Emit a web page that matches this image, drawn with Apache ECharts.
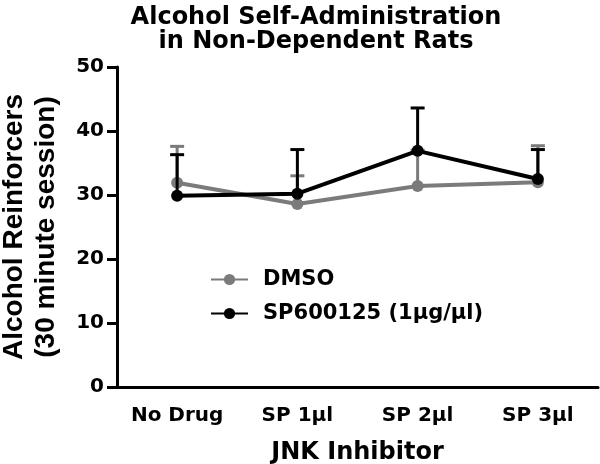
<!DOCTYPE html>
<html>
<head>
<meta charset="utf-8">
<script src="https://cdn.jsdelivr.net/npm/echarts@6/dist/echarts.min.js"></script>
<style>
  html, body { margin: 0; padding: 0; background: #fff; }
  #main { width: 600px; height: 464px; }
</style>
</head>
<body>
<div id="main"></div>
<script>
var categories = ['No Drug', 'SP 1µl', 'SP 2µl', 'SP 3µl'];
var dmsoMean = [31.9, 28.6, 31.4, 32.0];
var dmsoUpper = [37.6, 33.0, 37.0, 37.7];
var spMean = [29.9, 30.2, 36.9, 32.5];
var spUpper = [36.3, 37.1, 43.6, 37.1];
var yTicks = [0, 10, 20, 30, 40, 50];

var gray = '#7b7b7b';
var font = 'DejaVu Sans, sans-serif';
var fontNarrow = 'Liberation Sans, Arial, sans-serif';

function errData(mean, upper) {
    return mean.map(function (m, i) { return [i, m, upper[i]]; });
}

function errRender(color) {
    return function (params, api) {
        var base = api.coord([api.value(0), api.value(1)]);
        var top = api.coord([api.value(0), api.value(2)]);
        var half = 7;
        return {
            type: 'group',
            children: [
                { type: 'line', shape: { x1: base[0], y1: base[1], x2: top[0], y2: top[1] },
                  style: { stroke: color, lineWidth: 3 } },
                { type: 'line', shape: { x1: top[0] - half, y1: top[1], x2: top[0] + half, y2: top[1] },
                  style: { stroke: color, lineWidth: 3 } }
            ]
        };
    };
}

var myChart = echarts.init(document.getElementById('main'));

myChart.setOption({
    animation: false,
    title: {
        text: 'Alcohol Self-Administration\nin Non-Dependent Rats',
        left: 311,
        top: 1,
        textAlign: 'center',
        textStyle: { fontFamily: font, fontSize: 24, fontWeight: 'bold', color: '#000', lineHeight: 24 }
    },
    legend: {
        orient: 'vertical',
        left: 205,
        top: 264,
        itemGap: 13,
        itemWidth: 37,
        itemHeight: 14,
        data: ['DMSO', 'SP600125 (1µg/µl)'],
        textStyle: { fontFamily: font, fontSize: 21, fontWeight: 'bold', color: '#000', lineHeight: 21, padding: [0, 0, 0, 10] }
    },
    grid: { left: 117, right: 2, top: 67, bottom: 77, outerBoundsMode: 'none', containLabel: false },
    xAxis: {
        type: 'category',
        data: categories,
        boundaryGap: true,
        name: 'JNK Inhibitor',
        nameLocation: 'middle',
        nameGap: 54,
        nameTextStyle: { fontFamily: font, fontSize: 24, fontWeight: 'bold', color: '#000' },
        axisLine: { lineStyle: { color: '#000', width: 3 } },
        axisTick: { alignWithLabel: true, length: 10, lineStyle: { color: '#000', width: 3 } },
        axisLabel: { fontFamily: font, fontSize: 20, fontWeight: 'bold', color: '#000', margin: 19 }
    },
    yAxis: {
        type: 'value',
        min: 0,
        max: 50,
        interval: 10,
        name: 'Alcohol Reinforcers\n(30 minute session)',
        nameLocation: 'middle',
        nameGap: 55,
        nameTextStyle: { fontFamily: fontNarrow, fontSize: 28, fontWeight: 'bold', color: '#000', lineHeight: 32 },
        axisLine: { show: true, lineStyle: { color: '#000', width: 3 } },
        axisTick: { show: true, length: 10, lineStyle: { color: '#000', width: 3 } },
        axisLabel: { fontFamily: font, fontSize: 20, fontWeight: 'bold', color: '#000', margin: 13,
            formatter: function (v) { return yTicks.indexOf(v) >= 0 ? String(v) : ''; } },
        splitLine: { show: false }
    },
    series: [
        {
            name: 'DMSO',
            type: 'line',
            data: dmsoMean,
            symbol: 'circle',
            symbolSize: 12,
            z: 3,
            itemStyle: { color: gray },
            lineStyle: { color: gray, width: 4 }
        },
        {
            type: 'custom',
            data: errData(dmsoMean, dmsoUpper),
            renderItem: errRender(gray),
            z: 2,
            silent: true
        },
        {
            name: 'SP600125 (1µg/µl)',
            type: 'line',
            data: spMean,
            symbol: 'circle',
            symbolSize: 12,
            z: 5,
            itemStyle: { color: '#000' },
            lineStyle: { color: '#000', width: 4 }
        },
        {
            type: 'custom',
            data: errData(spMean, spUpper),
            renderItem: errRender('#000'),
            z: 4,
            silent: true
        }
    ]
});
</script>
</body>
</html>
